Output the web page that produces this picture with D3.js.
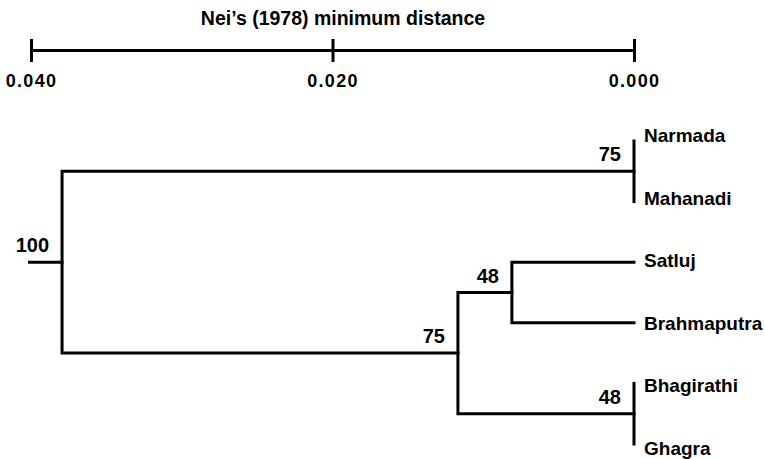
<!DOCTYPE html>
<html>
<head>
<meta charset="utf-8">
<script src="https://cdn.jsdelivr.net/npm/d3@7"></script>
<style>
  body { margin: 0; background: #fff; }
  svg { display: block; }
  text { font-family: "Liberation Sans", Arial, sans-serif; font-weight: bold; fill: #000; }
</style>
</head>
<body>
<svg id="chart" width="765" height="459"></svg>
<script>
// leaf order, top to bottom
const leaves = ['Narmada', 'Mahanadi', 'Satluj', 'Brahmaputra', 'Bhagirathi', 'Ghagra']

// internal nodes (UPGMA clusters), children may be leaves or other nodes
const nodeIds = ['NM', 'SB', 'BG', 'SBBG', 'root']
const nodeLeft = ['Narmada', 'Satluj', 'Bhagirathi', 'SB', 'NM']
const nodeRight = ['Mahanadi', 'Brahmaputra', 'Ghagra', 'BG', 'SBBG']
const nodeHeight = [0.0000, 0.0081, 0.0000, 0.01168, 0.03794]
const bootstrap = [75, 48, 48, 75, 100]
const rootStem = 0.0401

const axisTicks = [0.040, 0.020, 0.000]
const axisTitle = 'Nei\u2019s (1978) minimum distance'

const svg = d3.select('#chart')

const x = d3.scaleLinear().domain([0.04, 0]).range([31, 634])
const yLeaf = d3.scalePoint().domain(leaves).range([141, 444])
const yLabel = d3.scalePoint().domain(leaves).range([142, 455])

// positions for every node
const pos = {}
leaves.forEach(l => { pos[l] = { h: 0, y: yLeaf(l) } })
nodeIds.forEach((id, i) => {
  const a = pos[nodeLeft[i]]
  const b = pos[nodeRight[i]]
  pos[id] = { h: nodeHeight[i], y: (a.y + b.y) / 2 }
})

// scale bar on top
svg.append('text')
  .attr('x', 343)
  .attr('y', 25)
  .attr('text-anchor', 'middle')
  .style('font-size', '19.5px')
  .text(axisTitle)

const axis = svg.append('g')
  .attr('transform', 'translate(0,50)')
  .call(d3.axisBottom(x)
    .tickValues(axisTicks)
    .tickFormat(d3.format('.3f'))
    .tickSizeOuter(0))

axis.select('.domain').attr('stroke', '#000').attr('stroke-width', 3)
axis.selectAll('.tick line')
  .attr('y1', -11).attr('y2', 12)
  .attr('stroke', '#000').attr('stroke-width', 3)
axis.selectAll('.tick text')
  .attr('y', 37)
  .attr('dy', 0)
  .style('font-size', '18px')
  .style('letter-spacing', '1.3px')
  .attr('font-family', null)
  .attr('fill', '#000')

// tree
const g = svg.append('g')
  .attr('fill', 'none')
  .attr('stroke', '#000')
  .attr('stroke-width', 3)
  .attr('stroke-linecap', 'square')

nodeIds.forEach((id, i) => {
  const n = pos[id]
  const a = pos[nodeLeft[i]]
  const b = pos[nodeRight[i]]
  const path = d3.path()
  path.moveTo(x(n.h), a.y)
  path.lineTo(x(n.h), b.y)
  ;[a, b].forEach(c => {
    if (c.h !== n.h) {
      path.moveTo(x(n.h), c.y)
      path.lineTo(x(c.h), c.y)
    }
  })
  g.append('path').attr('d', path.toString())
})

// root stem
const root = pos.root
g.append('line')
  .attr('x1', x(rootStem)).attr('x2', x(root.h))
  .attr('y1', root.y).attr('y2', root.y)

// bootstrap values
svg.append('g').selectAll('text')
  .data(nodeIds)
  .join('text')
  .attr('x', d => x(pos[d].h) - 13)
  .attr('y', d => pos[d].y - 10)
  .attr('text-anchor', 'end')
  .style('font-size', '20px')
  .text((d, i) => bootstrap[i])

// leaf names
svg.append('g').selectAll('text')
  .data(leaves)
  .join('text')
  .attr('x', x(0) + 10)
  .attr('y', d => yLabel(d))
  .style('font-size', '19px')
  .text(d => d)
</script>
</body>
</html>
